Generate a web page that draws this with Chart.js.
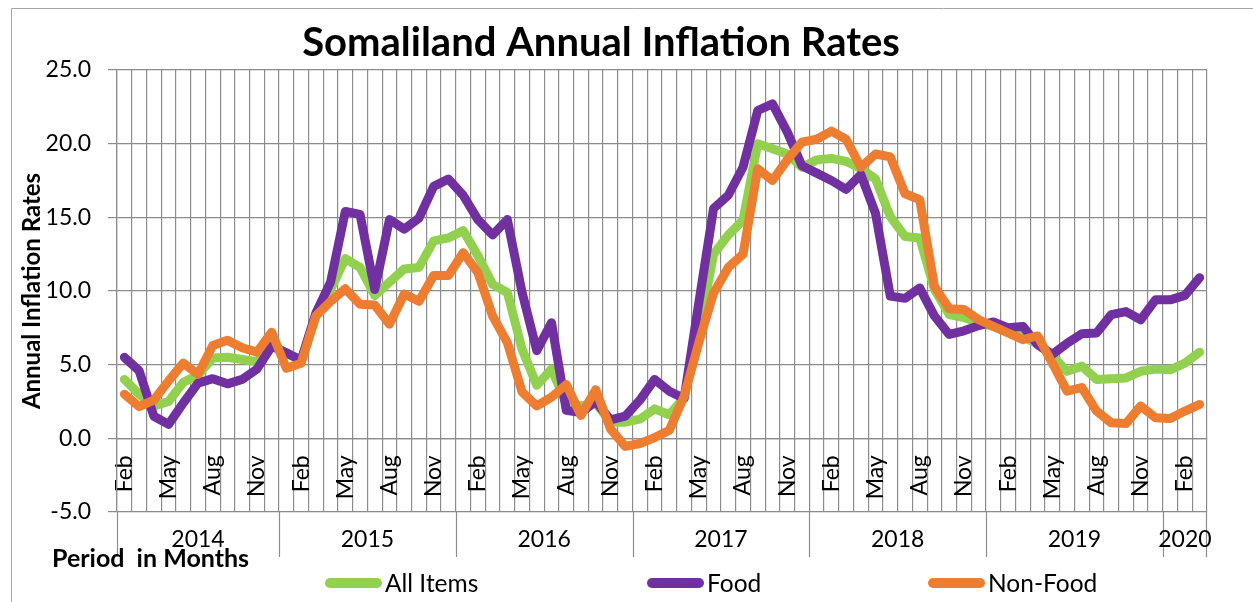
<!DOCTYPE html>
<html><head><meta charset="utf-8">
<script src="https://cdn.jsdelivr.net/npm/chart.js@4.4.0/dist/chart.umd.min.js"></script>
<style>html,body{margin:0;padding:0;background:#fff;overflow:hidden;}canvas{display:block;}</style>
</head><body>
<canvas id="c" width="1253" height="602"></canvas>
<script>
const chartTitle = 'Somaliland Annual Inflation Rates';
const yAxisTitle = 'Annual Inflation Rates';
const xAxisTitle = 'Period  in Months';

const months = ['Feb','Mar','Apr','May','Jun','Jul','Aug','Sep','Oct','Nov','Dec',
  'Jan','Feb','Mar','Apr','May','Jun','Jul','Aug','Sep','Oct','Nov','Dec',
  'Jan','Feb','Mar','Apr','May','Jun','Jul','Aug','Sep','Oct','Nov','Dec',
  'Jan','Feb','Mar','Apr','May','Jun','Jul','Aug','Sep','Oct','Nov','Dec',
  'Jan','Feb','Mar','Apr','May','Jun','Jul','Aug','Sep','Oct','Nov','Dec',
  'Jan','Feb','Mar','Apr','May','Jun','Jul','Aug','Sep','Oct','Nov','Dec',
  'Jan','Feb','Mar'];
const years = ['2014','2014','2014','2014','2014','2014','2014','2014','2014','2014','2014',
  '2015','2015','2015','2015','2015','2015','2015','2015','2015','2015','2015','2015',
  '2016','2016','2016','2016','2016','2016','2016','2016','2016','2016','2016','2016',
  '2017','2017','2017','2017','2017','2017','2017','2017','2017','2017','2017','2017',
  '2018','2018','2018','2018','2018','2018','2018','2018','2018','2018','2018','2018',
  '2019','2019','2019','2019','2019','2019','2019','2019','2019','2019','2019','2019',
  '2020','2020','2020'];

const allItems = [4.0,3.0,2.2,2.5,3.8,4.3,5.45,5.5,5.35,5.2,6.3,5.8,
  5.3,8.3,10.1,12.2,11.6,9.7,10.6,11.5,11.6,13.4,13.6,14.1,
  12.4,10.45,9.9,6.05,3.6,4.7,2.4,2.2,2.4,1.1,1.1,1.3,
  2.0,1.6,2.75,7.2,12.5,13.8,14.8,20.0,19.65,19.3,18.4,18.9,
  19.0,18.8,18.3,17.6,15.05,13.7,13.6,10.1,8.4,8.2,7.85,7.6,
  7.2,6.9,6.4,5.6,4.55,4.9,4.0,4.05,4.1,4.55,4.7,4.65,5.1,5.85];
const food = [5.5,4.6,1.5,0.95,2.4,3.75,4.05,3.7,4.0,4.7,6.25,5.8,
  5.3,8.5,10.6,15.4,15.2,10.1,14.85,14.2,14.95,17.1,17.6,16.5,
  14.85,13.8,14.85,9.9,5.95,7.85,1.9,1.75,2.5,1.25,1.5,2.6,
  4.0,3.2,2.7,9.2,15.6,16.5,18.4,22.25,22.7,20.8,18.5,18.0,
  17.5,16.9,17.9,15.25,9.65,9.5,10.2,8.3,7.05,7.3,7.65,7.9,
  7.5,7.6,6.35,5.7,6.45,7.1,7.15,8.4,8.6,8.05,9.4,9.4,9.7,10.9];
const nonFood = [3.0,2.15,2.6,3.9,5.1,4.35,6.3,6.65,6.15,5.85,7.2,4.75,
  5.1,8.3,9.3,10.15,9.1,9.05,7.75,9.8,9.3,11.05,11.05,12.6,
  11.25,8.3,6.5,3.15,2.2,2.8,3.65,1.55,3.3,0.65,-0.55,-0.35,
  0.05,0.55,2.85,6.5,9.85,11.6,12.5,18.3,17.5,18.9,20.1,20.3,
  20.85,20.3,18.4,19.3,19.1,16.6,16.2,10.3,8.8,8.75,8.05,7.6,
  7.15,6.7,6.95,5.1,3.2,3.45,1.85,1.05,1.0,2.2,1.4,1.35,1.85,2.3];

const seriesNames = ['All Items','Food','Non-Food'];
const seriesColors = ['#92D050','#7030A0','#ED7D31'];
const yMin = -5, yMax = 25, yStep = 5;

const FONT = 'Lato';
const GRID = '#8c8c8c';
Chart.defaults.font.family = FONT;
Chart.defaults.color = '#000';

const decor = {
  id: 'decor',
  beforeDraw(chart) {
    const ctx = chart.ctx;
    ctx.save();
    ctx.fillStyle = '#fff';
    ctx.fillRect(0, 0, chart.width, chart.height);
    ctx.strokeStyle = '#a6a6a6';
    ctx.lineWidth = 1;
    ctx.beginPath();
    ctx.moveTo(11.5, chart.height + 5);
    ctx.lineTo(11.5, 8.5);
    ctx.lineTo(chart.width + 5, 8.5);
    ctx.stroke();
    ctx.restore();
  },
  afterDraw(chart) {
    const ctx = chart.ctx;
    const ca = chart.chartArea;
    const x = chart.scales.x;
    ctx.save();
    ctx.fillStyle = '#000';
    // title
    ctx.font = 'bold 40px ' + FONT;
    ctx.textAlign = 'center';
    ctx.textBaseline = 'alphabetic';
    ctx.fillText(chartTitle, 601, 56);
    // year groups
    const half = (x.getPixelForValue(1) - x.getPixelForValue(0)) / 2;
    ctx.strokeStyle = GRID;
    ctx.lineWidth = 1.2;
    ctx.font = '23px ' + FONT;
    ctx.textBaseline = 'middle';
    let s = 0;
    for (let i = 1; i <= years.length; i++) {
      if (i === years.length || years[i] !== years[s]) {
        const l = x.getPixelForValue(s) - half;
        const r = x.getPixelForValue(i - 1) + half;
        ctx.beginPath();
        ctx.moveTo(Math.round(l) + 0.5, ca.bottom);
        ctx.lineTo(Math.round(l) + 0.5, ca.bottom + 45);
        if (i === years.length) {
          ctx.moveTo(Math.round(r) - 0.5, ca.bottom);
          ctx.lineTo(Math.round(r) - 0.5, ca.bottom + 45);
        }
        ctx.stroke();
        ctx.fillText(years[s], (l + r) / 2, ca.bottom + 28);
        s = i;
      }
    }
    // x axis title
    ctx.font = 'bold 25px ' + FONT;
    ctx.textAlign = 'left';
    ctx.textBaseline = 'alphabetic';
    ctx.fillText(xAxisTitle, 52, 567);
    // legend
    const starts = [325, 647, 928];
    ctx.font = '24.5px ' + FONT;
    ctx.textBaseline = 'middle';
    chart.data.datasets.forEach((ds, k) => {
      const x0 = starts[k];
      ctx.strokeStyle = ds.borderColor;
      ctx.lineWidth = 10;
      ctx.lineCap = 'round';
      ctx.beginPath();
      ctx.moveTo(x0 + 5, 583);
      ctx.lineTo(x0 + 52, 583);
      ctx.stroke();
      ctx.fillStyle = '#000';
      ctx.fillText(ds.label, x0 + 60, 584);
    });
    ctx.restore();
  }
};

const makeDs = (i, data, order) => ({
  label: seriesNames[i], data, borderColor: seriesColors[i], backgroundColor: seriesColors[i],
  borderWidth: 9, pointRadius: 0, pointHoverRadius: 0, tension: 0,
  borderJoinStyle: 'round', borderCapStyle: 'round', fill: false, order
});

new Chart(document.getElementById('c'), {
  type: 'line',
  data: {
    labels: months,
    datasets: [makeDs(0, allItems, 3), makeDs(1, food, 2), makeDs(2, nonFood, 1)]
  },
  options: {
    responsive: false,
    animation: false,
    devicePixelRatio: 1,
    layout: { padding: { top: 70, right: 46, bottom: 90, left: 0 } },
    plugins: { legend: { display: false }, title: { display: false }, tooltip: { enabled: false } },
    events: [],
    scales: {
      x: {
        type: 'category', axis: 'x',
        position: { y: 0 },
        offset: true,
        grid: { offset: true, color: GRID, lineWidth: 1.2, drawTicks: false },
        border: { display: true, color: GRID, width: 1.2 },
        ticks: {
          autoSkip: false, maxRotation: 90, minRotation: 90, padding: 17,
          font: { size: 23, family: FONT }, color: '#000',
          callback: function(v, i) { return i % 3 === 0 ? this.getLabelForValue(v) : ''; }
        }
      },
      y: {
        type: 'linear', position: 'left',
        min: yMin, max: yMax,
        afterFit: (s) => { s.width = 117; },
        grid: { color: GRID, lineWidth: 1.2, drawTicks: true, tickLength: 9 },
        border: { display: true, color: GRID, width: 1.2 },
        ticks: { stepSize: yStep, padding: 17, font: { size: 23, family: FONT }, color: '#000',
          callback: (v) => v.toFixed(1) },
        title: { display: true, text: yAxisTitle, font: { size: 24, weight: 'bold', family: FONT },
          color: '#000', padding: { top: 18, bottom: 0 } }
      }
    }
  },
  plugins: [decor]
});
</script>
</body></html>
